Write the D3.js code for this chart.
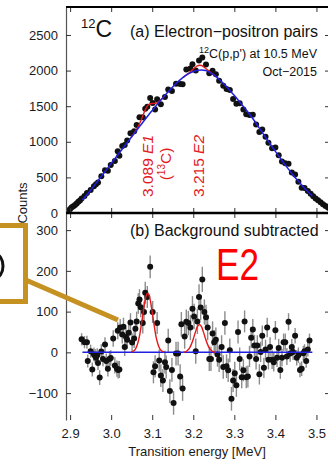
<!DOCTYPE html>
<html>
<head>
<meta charset="utf-8">
<script src="https://cdn.jsdelivr.net/npm/d3@7"></script>
<style>
  body { margin: 0; background: #fff; }
  svg { display: block; }
  text { font-family: "Liberation Sans", Arial, sans-serif; }
</style>
</head>
<body>
<svg id="chart" width="328" height="460"></svg>
<script>
// ---- Panel (a): electron-positron pair spectrum (counts per bin) ----
const topE = [2.888,2.892,2.896,2.900,2.904,2.908,2.912,2.916,2.920,2.924,
  2.928,2.935,2.941,2.950,2.958,2.963,2.968,2.976,2.985,2.992,2.999,
  3.009,3.016,3.020,3.027,3.033,3.039,3.047,3.056,3.062,3.069,3.077,3.083,3.088,3.095,
  3.101,3.107,3.112,3.121,3.131,3.139,3.148,3.158,3.168,3.174,3.183,3.193,3.198,
  3.206,3.214,3.222,3.231,3.239,3.247,3.255,3.263,3.273,3.281,3.289,3.297,
  3.305,3.313,3.322,3.329,3.337,3.345,3.353,3.361,3.368,3.376,3.383,3.392,3.400,
  3.408,3.416,3.424,3.432,3.440,3.448,3.456,3.464,3.471,3.479,3.486,3.492,3.498,
  3.504,3.510,3.516,3.522,3.528,3.533];
const topV = [0,12,32,55,80,96,112,135,159,176,
  202,240,282,323,375,404,429,517,601,595,674,
  731,868,803,942,956,1019,1121,1149,1236,1343,1345,1464,1491,1615,
  1546,1455,1596,1529,1628,1733,1715,1815,1811,1809,2014,2029,2089,
  2000,2141,2185,2084,1962,1997,1948,1859,1786,1740,1727,1601,
  1534,1543,1452,1386,1378,1381,1244,1138,1173,1071,987,911,919,
  812,724,700,690,568,540,439,354,352,308,270,235,205,
  178,150,124,100,78,60];

// Background fit (blue)
const bgE = [2.93,2.94,2.95,2.96,2.97,2.98,2.99,3.00,3.01,3.02,3.03,3.04,3.05,3.06,3.07,3.08,3.09,
  3.10,3.11,3.12,3.13,3.14,3.15,3.16,3.17,3.18,3.19,3.20,3.21,3.22,3.23,3.24,3.25,3.26,3.27,3.28,3.29,
  3.30,3.31,3.32,3.33,3.34,3.35,3.36,3.37,3.38,3.39,3.40,3.41,3.42,3.43,3.44,3.45,3.46,3.47,3.48,3.49];
const bgV = [183,250,320,395,470,545,620,695,770,845,920,995,1070,1145,1220,1295,1370,
  1440,1510,1580,1645,1710,1770,1830,1880,1925,1960,1988,2003,2008,2000,1975,1940,1893,1840,1780,1715,
  1650,1580,1510,1440,1365,1285,1200,1115,1030,945,865,785,705,630,555,485,420,355,295,240];

// Full fit (red) around the two lines
const fitE1E = [3.049,3.054,3.059,3.064,3.069,3.074,3.079,3.084,3.089,3.094,3.099,3.104,3.109,3.114,3.119,3.124,3.129];
const fitE1V = [1064,1103,1146,1195,1253,1321,1393,1459,1508,1532,1538,1539,1543,1558,1581,1609,1640];
const fitE2E = [3.175,3.180,3.185,3.190,3.195,3.200,3.205,3.210,3.215,3.220,3.225,3.230,3.235,3.240,3.245,3.250,3.255];
const fitE2V = [1903,1926,1947,1969,1993,2021,2045,2066,2074,2071,2053,2033,2007,1984,1962,1941,1917];

// ---- Panel (b): background-subtracted spectrum ----
const resE = [2.928,2.935,2.941,2.943,2.950,2.954,2.958,2.961,2.963,2.966,2.968,2.972,2.976,2.980,2.985,2.988,2.992,2.996,2.999,
  3.005,3.009,3.014,3.016,3.017,3.020,3.022,3.027,3.030,3.033,3.036,3.039,3.043,3.047,3.051,3.056,3.059,
  3.062,3.066,3.069,3.072,3.077,3.080,3.083,3.088,3.095,3.101,3.103,3.107,3.112,3.117,3.121,3.126,3.131,3.134,3.139,3.143,3.148,3.152,
  3.158,3.163,3.168,3.171,3.174,3.179,3.183,3.188,3.193,3.198,3.202,3.206,3.210,3.214,3.218,3.222,3.227,3.231,3.235,3.239,
  3.243,3.247,3.251,3.255,3.259,3.263,3.269,3.273,3.277,3.281,3.285,3.289,
  3.293,3.297,3.301,3.305,3.309,3.313,3.318,3.322,3.325,3.329,3.333,3.337,3.341,3.345,3.349,3.353,3.356,3.361,3.364,3.368,
  3.372,3.376,3.380,3.383,3.387,3.392,3.396,3.400,
  3.404,3.408,3.412,3.416,3.420,3.424,3.428,3.432,3.436,3.440,3.443,3.448,3.452,3.456,3.460,3.464,3.468,3.471,3.475,3.479,3.483];
const resV = [32,25,25,-21,3,-42,-5,-9,-13,-7,-26,-62,2,-16,19,-21,-40,-16,-14,
  34,-32,-40,53,-43,-42,61,44,63,13,38,31,48,73,24,34,58,
  76,120,130,111,72,99,146,136,210,99,-49,-34,72,-20,-57,-69,-24,-36,29,-95,-43,-124,
  -3,-3,-59,69,-89,39,75,72,61,107,88,3,76,136,110,179,99,86,61,-16,
  -16,46,25,31,-5,-18,13,-36,72,-34,-44,5,
  -114,-69,-51,-81,50,-16,-61,-44,76,-61,-59,-10,36,56,17,-16,17,-54,1,41,
  -38,7,61,-18,13,-18,-24,54,
  -13,11,-43,-13,25,25,-10,75,-3,13,1,41,-13,-7,-43,-40,-2,3,-21,7,29];
const resErr = [15,15,16,16,16,17,17,17,17,17,17,18,18,18,18,18,19,19,19,
  20,20,20,21,21,21,21,22,22,22,22,22,23,23,23,23,24,
  24,25,25,25,26,26,27,27,28,27,27,27,27,27,28,28,28,28,29,29,29,29,
  29,29,30,30,30,30,30,30,31,31,31,31,31,31,31,31,31,31,31,30,
  30,30,30,30,30,30,29,29,29,29,29,29,
  29,28,28,28,28,28,27,27,27,27,27,26,26,26,26,26,25,25,25,25,
  25,24,24,24,24,23,23,23,
  23,22,22,22,21,21,21,21,20,20,20,19,19,19,18,18,18,17,17,17,17];

const zeroE = [2.93, 3.49];
const zeroV = [0, 0];
const peakE1E = [3.049,3.054,3.059,3.064,3.069,3.074,3.079,3.084,3.089,3.094,3.099,3.104,3.109,3.114,3.119,3.124,3.129];
const peakE1V = [1,3,8,20,40,71,105,134,145,134,105,71,40,20,8,3,1];
const peakE2E = [3.175,3.180,3.185,3.190,3.195,3.200,3.205,3.210,3.215,3.220,3.225,3.230,3.235,3.240,3.245,3.250,3.255];
const peakE2V = [0,1,4,9,19,33,49,63,68,63,49,33,19,9,4,1,0];

// ---- Axes ticks ----
const xTicks = [2.9, 3.0, 3.1, 3.2, 3.3, 3.4, 3.5];
const yTicksA = [0, 500, 1000, 1500, 2000, 2500];
const yTicksB = [-100, 0, 100, 200, 300];

// ---- Layout ----
const L = 66, R = 330, T = 7, MID = 213, B = 420;
const x = d3.scaleLinear().domain([2.89, 3.533]).range([L, R]);
const yA = d3.scaleLinear().domain([0, 2893]).range([MID, T]);
const yB = d3.scaleLinear().domain([-166, 342]).range([B, MID]);

const RED = "#e3191c", BLUE = "#1f1fe0", FONT = "'Liberation Sans', Arial, sans-serif";
const svg = d3.select("#chart");

const defs = svg.append("defs");
defs.append("clipPath").attr("id", "clipA").append("rect")
  .attr("x", L).attr("y", T).attr("width", R - L).attr("height", MID - T);
defs.append("clipPath").attr("id", "clipB").append("rect")
  .attr("x", L).attr("y", MID).attr("width", R - L).attr("height", B - MID);

const lineA = d3.line().x(d => x(d[0])).y(d => yA(d[1])).curve(d3.curveMonotoneX);
const lineB = d3.line().x(d => x(d[0])).y(d => yB(d[1])).curve(d3.curveMonotoneX);

// Panel (a)
const gA = svg.append("g").attr("clip-path", "url(#clipA)");
gA.selectAll("circle").data(d3.zip(topE, topV)).join("circle")
  .attr("cx", d => x(d[0])).attr("cy", d => yA(d[1])).attr("r", 3).attr("fill", "#111");
[[fitE1E, fitE1V], [fitE2E, fitE2V]].forEach(([e, v]) => {
  gA.append("path").attr("d", lineA(d3.zip(e, v)))
    .attr("fill", "none").attr("stroke", RED).attr("stroke-width", 1.4);
});
gA.append("path").attr("d", lineA(d3.zip(bgE, bgV)))
  .attr("fill", "none").attr("stroke", BLUE).attr("stroke-width", 1.5);

// Panel (b)
const gB = svg.append("g").attr("clip-path", "url(#clipB)");
const resData = d3.zip(resE, resV, resErr);
gB.selectAll("line.err").data(resData).join("line").attr("class", "err")
  .attr("x1", d => x(d[0])).attr("x2", d => x(d[0]))
  .attr("y1", d => yB(d[1] - d[2])).attr("y2", d => yB(d[1] + d[2]))
  .attr("stroke", "#8c8c8c").attr("stroke-width", 1.4);
gB.selectAll("circle").data(resData).join("circle")
  .attr("cx", d => x(d[0])).attr("cy", d => yB(d[1])).attr("r", 3).attr("fill", "#111");
gB.append("path").attr("d", lineB(d3.zip(zeroE, zeroV)))
  .attr("fill", "none").attr("stroke", BLUE).attr("stroke-width", 1.5);
[[peakE1E, peakE1V], [peakE2E, peakE2V]].forEach(([e, v]) => {
  gB.append("path").attr("d", lineB(d3.zip(e, v)))
    .attr("fill", "none").attr("stroke", RED).attr("stroke-width", 1.4);
});

// ---- Axes ----
function style(g) {
  g.attr("font-family", FONT).attr("font-size", 13);
  g.selectAll(".tick line").attr("stroke", "#333").attr("stroke-width", 1);
  g.selectAll(".tick text").attr("fill", "#1a1a1a");
  return g;
}
const intFmt = d3.format("d");
// left
style(svg.append("g").attr("transform", `translate(${L},0)`)
  .call(d3.axisLeft(yA).tickValues(yTicksA).tickFormat(intFmt)
    .tickSizeInner(-5).tickSizeOuter(0).tickPadding(8)));
style(svg.append("g").attr("transform", `translate(${L},0)`)
  .call(d3.axisLeft(yB).tickValues(yTicksB).tickFormat(intFmt)
    .tickSizeInner(-5).tickSizeOuter(0).tickPadding(8)));
svg.selectAll(".domain").attr("stroke", "#555").attr("stroke-width", 1.2);
// right ticks
[[yA, yTicksA], [yB, yTicksB]].forEach(([s, t]) => {
  style(svg.append("g").attr("transform", `translate(${R},0)`)
    .call(d3.axisRight(s).tickValues(t).tickSize(-5).tickFormat("")))
    .select(".domain").remove();
});
// x ticks on each horizontal frame
function xAxis(gen, yPos, fmt) {
  const g = style(svg.append("g").attr("transform", `translate(0,${yPos})`)
    .call(gen(x).tickValues(xTicks).tickSize(-5).tickPadding(9).tickFormat(fmt)));
  g.select(".domain").remove();
  return g;
}
xAxis(d3.axisTop, T, "");
xAxis(d3.axisBottom, MID, "");
xAxis(d3.axisTop, MID, "");
xAxis(d3.axisBottom, B, d3.format(".1f"));

// heavy frame lines
svg.append("line").attr("x1", L).attr("x2", R).attr("y1", T).attr("y2", T)
  .attr("stroke", "#000").attr("stroke-width", 2.2);
svg.append("line").attr("x1", L).attr("x2", R).attr("y1", MID).attr("y2", MID)
  .attr("stroke", "#000").attr("stroke-width", 2.6);

// ---- Axis titles ----
svg.append("text").attr("transform", "translate(27,203) rotate(-90)")
  .attr("text-anchor", "middle").attr("font-size", 13).attr("fill", "#1a1a1a").text("Counts");
svg.append("text").attr("x", 197).attr("y", 456)
  .attr("text-anchor", "middle").attr("font-size", 13).attr("fill", "#1a1a1a").text("Transition energy [MeV]");

// ---- Panel annotations ----
svg.append("text").attr("x", 81).attr("y", 28).attr("font-size", 13).attr("fill", "#111").text("12");
svg.append("text").attr("x", 95.5).attr("y", 37).attr("font-size", 23).attr("fill", "#111").text("C");
svg.append("text").attr("x", 130).attr("y", 37).attr("font-size", 16).attr("fill", "#111")
  .text("(a) Electron\u2212positron pairs");
const react = svg.append("text").attr("x", 317).attr("y", 58).attr("text-anchor", "end")
  .attr("font-size", 12.5).attr("fill", "#111");
react.append("tspan").attr("font-size", 9).attr("dy", -5).text("12");
react.append("tspan").attr("dy", 5).text("C(p,p') at 10.5 MeV");
svg.append("text").attr("x", 317).attr("y", 76).attr("text-anchor", "end")
  .attr("font-size", 12.5).attr("fill", "#111").text("Oct\u22122015");
svg.append("text").attr("x", 130).attr("y", 236).attr("font-size", 16).attr("fill", "#111")
  .text("(b) Background subtracted");

// transition labels
function lineLabel(px, py, energy, mult) {
  const t = svg.append("text").attr("transform", `translate(${px},${py}) rotate(-90)`)
    .attr("font-size", 15.5).attr("fill", RED);
  t.append("tspan").text(energy + " ");
  t.append("tspan").attr("font-style", "italic").text(mult);
}
lineLabel(153, 197, "3.089", "E1");
lineLabel(204, 197, "3.215", "E2");
const iso = svg.append("text").attr("transform", "translate(171,164) rotate(-90)")
  .attr("text-anchor", "middle").attr("font-size", 15.5).attr("fill", RED);
iso.append("tspan").text("(");
iso.append("tspan").attr("font-size", 10).attr("dy", -6).text("13");
iso.append("tspan").attr("dy", 6).text("C)");

// big multipolarity tag
svg.append("text").attr("x", 216).attr("y", 280).attr("font-size", 45)
  .attr("textLength", 43).attr("lengthAdjust", "spacingAndGlyphs")
  .attr("fill", "#ff0000").text("E2");

// callout box with leader line
const GOLD = "#c59120";
svg.append("ellipse").attr("cx", -5).attr("cy", 266).attr("rx", 8).attr("ry", 12)
  .attr("fill", "none").attr("stroke", "#111").attr("stroke-width", 3);
svg.append("rect").attr("x", -40).attr("y", 225.5).attr("width", 65.5).attr("height", 76)
  .attr("fill", "none").attr("stroke", GOLD).attr("stroke-width", 5);
svg.append("line").attr("x1", 27).attr("y1", 280.5).attr("x2", 118).attr("y2", 320)
  .attr("stroke", GOLD).attr("stroke-width", 5);
</script>
</body>
</html>
